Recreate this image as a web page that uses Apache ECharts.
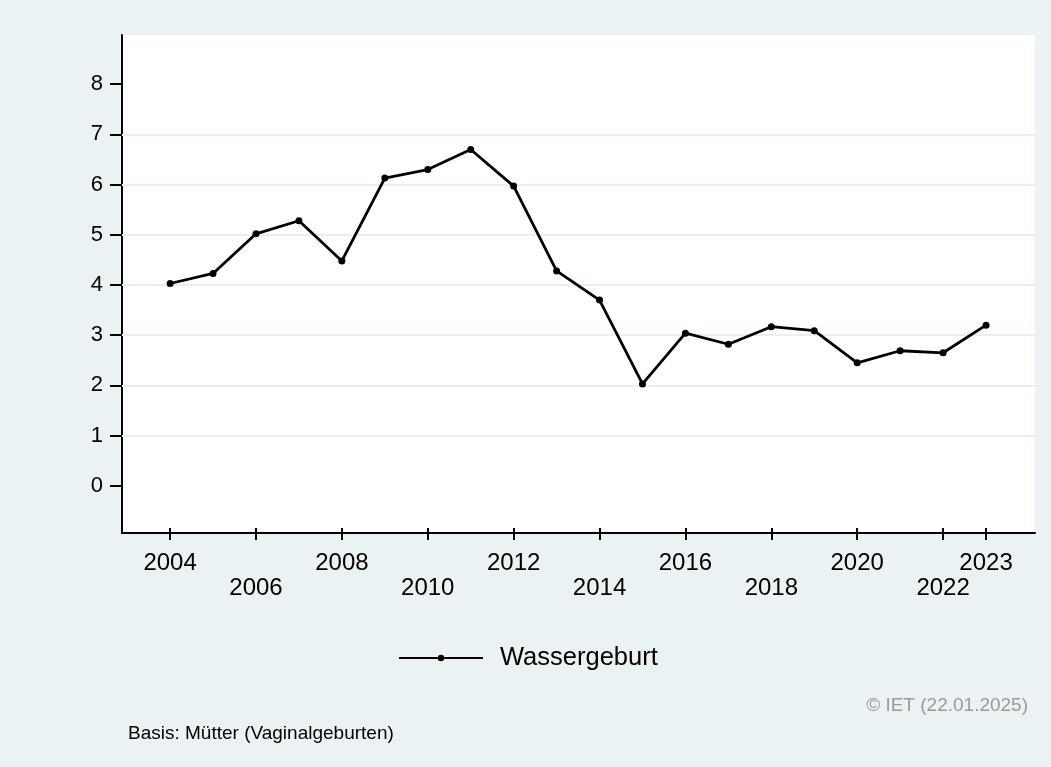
<!DOCTYPE html>
<html>
<head>
<meta charset="utf-8">
<script src="https://cdn.jsdelivr.net/npm/echarts@6/dist/echarts.min.js"></script>
<style>
html,body{margin:0;padding:0;background:#EAF2F3;}
#chart{width:1051px;height:767px;}
</style>
</head>
<body>
<div id="chart"></div>
<script>
const years = [2004,2005,2006,2007,2008,2009,2010,2011,2012,2013,2014,2015,2016,2017,2018,2019,2020,2021,2022,2023];
const wassergeburt = [4.03,4.23,5.02,5.28,4.48,6.13,6.30,6.70,5.97,4.28,3.70,2.03,3.04,2.82,3.17,3.09,2.45,2.69,2.65,3.20];
const xTickValues = [2004,2006,2008,2010,2012,2014,2016,2018,2020,2022,2023];
const xFirstRow = [2004,2008,2012,2016,2020,2023];
const xSecondRow = [2006,2010,2014,2018,2022];
const yTickValues = [0,1,2,3,4,5,6,7,8];
const gridValues = [1,2,3,4,5,6,7];
const seriesName = 'Wassergeburt';
const noteText = 'Basis: Mütter (Vaginalgeburten)';
const copyText = '© IET (22.01.2025)';

const FONT = "'Liberation Sans', Arial, sans-serif";
const chart = echarts.init(document.getElementById('chart'));
const xMin = 2002.88, xMax = 2024.14, yMin = -0.94, yMax = 8.98;
const labelBase = {color: '#000', fontSize: 24, fontFamily: FONT, lineHeight: 25, verticalAlign: 'top', hideOverlap: false, interval: 0, formatter: v => String(Math.round(v))};

chart.setOption({
  backgroundColor: '#EAF2F3',
  animation: false,
  textStyle: {fontFamily: FONT},
  grid: {left: 122, top: 35, right: 16, bottom: 234, show: true, backgroundColor: '#ffffff', borderWidth: 0},
  xAxis: [{
    type: 'value', min: xMin, max: xMax,
    axisLine: {show: true, onZero: false, lineStyle: {color: '#000', width: 2}},
    axisTick: {show: true, inside: false, length: 7, interval: 0, lineStyle: {color: '#000', width: 2}, customValues: xTickValues},
    axisLabel: Object.assign({customValues: xFirstRow, margin: 18}, labelBase),
    splitLine: {show: false}
  }, {
    type: 'value', min: xMin, max: xMax, position: 'bottom',
    axisLine: {show: false, onZero: false},
    axisTick: {show: true, inside: true, length: 5, interval: 0, lineStyle: {color: '#000', width: 2}, customValues: xTickValues},
    axisLabel: Object.assign({customValues: xSecondRow, margin: 43}, labelBase),
    splitLine: {show: false}
  }],
  yAxis: {
    type: 'value', min: yMin, max: yMax,
    axisLine: {show: true, onZero: false, lineStyle: {color: '#000', width: 2}},
    axisTick: {show: true, length: 12, lineStyle: {color: '#000', width: 2}, customValues: yTickValues},
    axisLabel: {customValues: yTickValues, margin: 19, color: '#000', fontSize: 22, fontFamily: FONT, hideOverlap: false},
    splitLine: {show: false}
  },
  legend: {
    left: 393, top: 640, itemWidth: 84, itemHeight: 8,
    textStyle: {color: '#000', fontSize: 25.5, fontFamily: FONT, padding: [0, 0, 0, 12]},
    data: [seriesName]
  },
  graphic: [
    {type: 'text', right: 23, top: 696, style: {text: copyText, fill: '#9a9a9a', font: '19px ' + FONT}},
    {type: 'text', left: 128, top: 724, style: {text: noteText, fill: '#000', font: '19px ' + FONT}}
  ],
  series: [
    {
      type: 'line', name: '_grid', data: [], z: 1, silent: true,
      markLine: {
        z: 1, silent: true, symbol: ['none', 'none'], label: {show: false},
        lineStyle: {color: '#E6EFF1', width: 2, type: 'solid'},
        data: gridValues.map(v => ({yAxis: v}))
      }
    },
    {
      type: 'line', name: seriesName, z: 5,
      data: years.map((y, i) => [y, wassergeburt[i]]),
      symbol: 'circle', symbolSize: 7, showSymbol: true,
      itemStyle: {color: '#000'},
      lineStyle: {color: '#000', width: 2.8}
    }
  ]
});
</script>
</body>
</html>
